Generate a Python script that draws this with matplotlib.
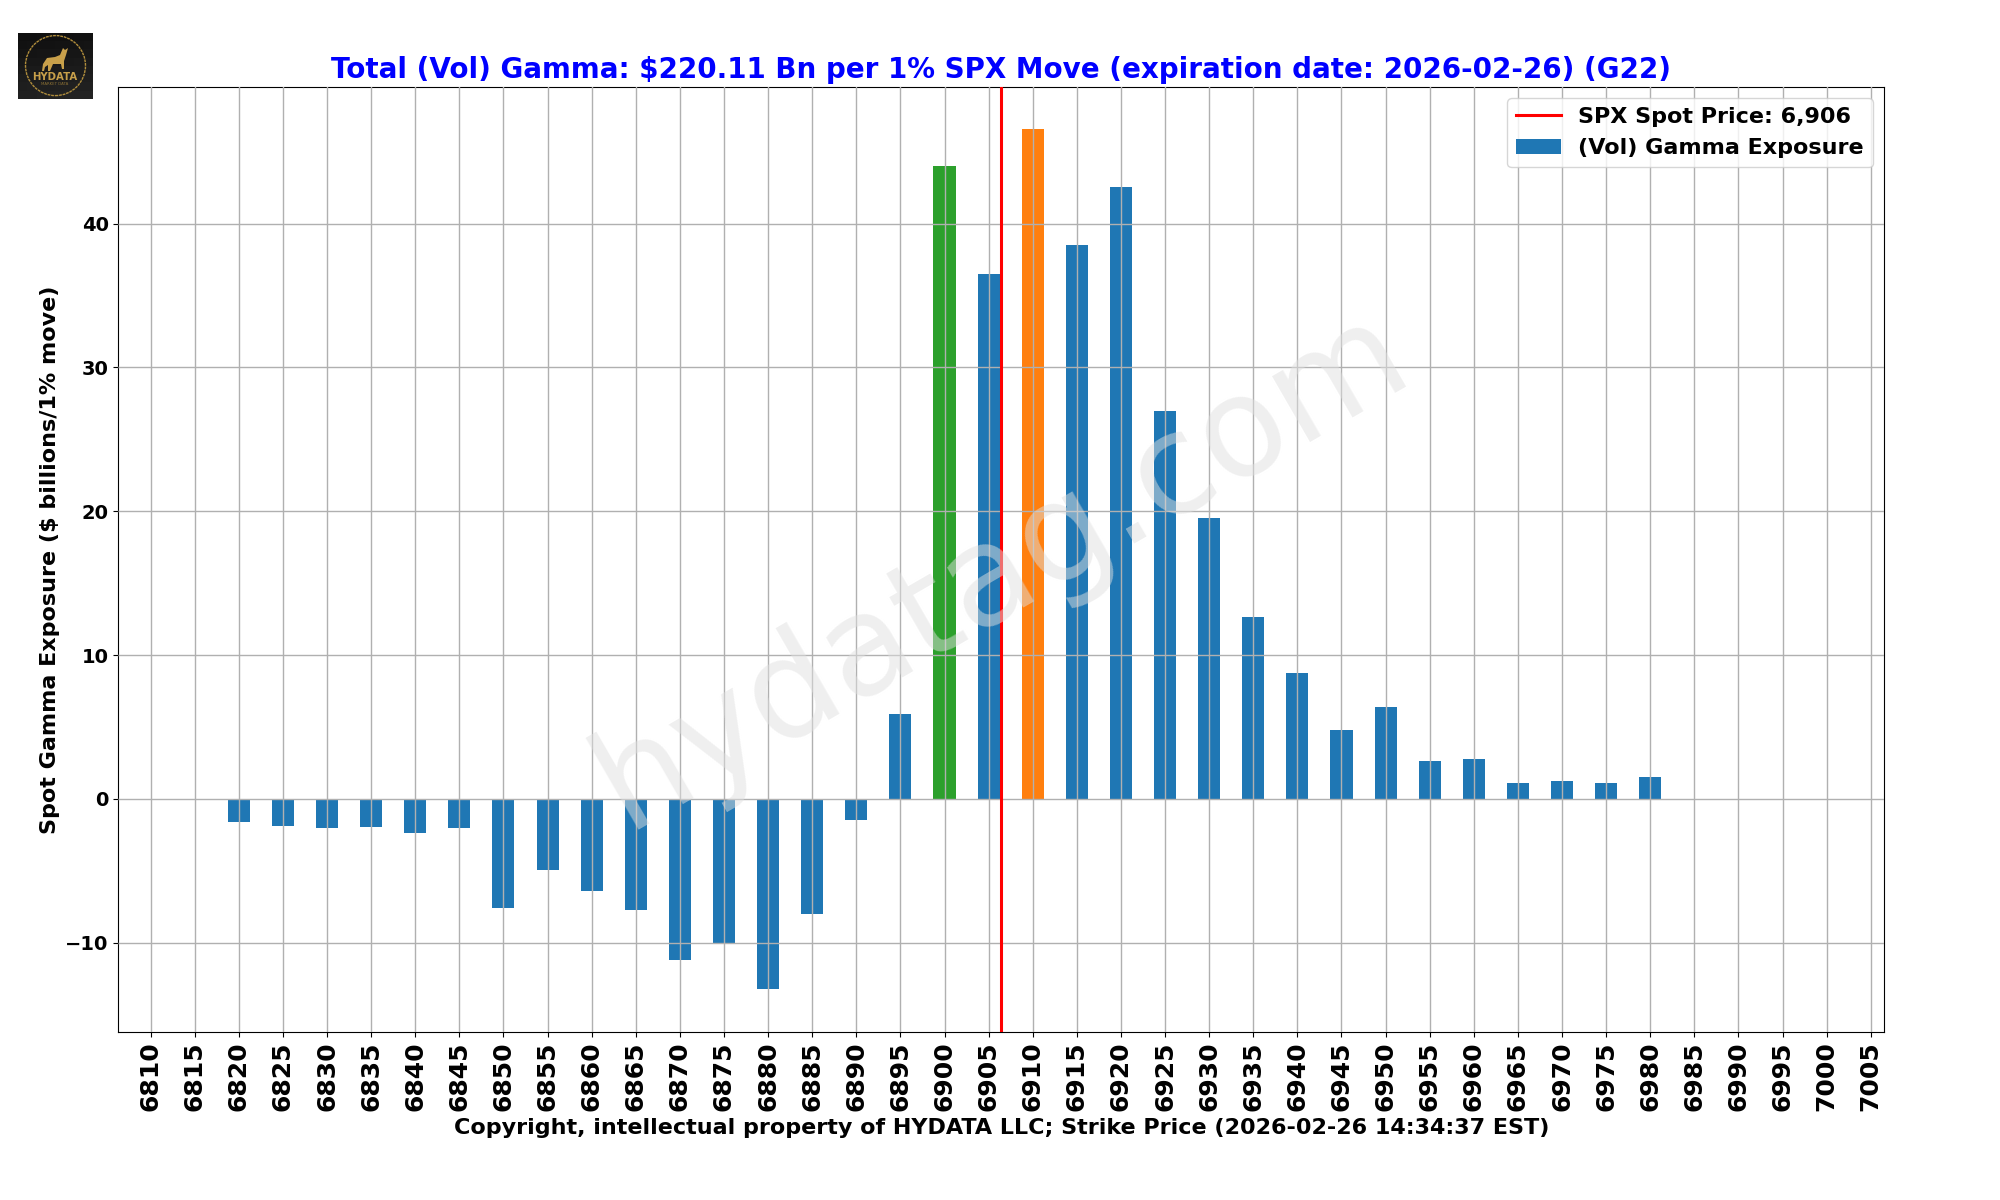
import numpy as np
import matplotlib
matplotlib.use("Agg")
import matplotlib.pyplot as plt
from matplotlib.patches import Circle, Polygon

strikes = list(range(6810, 7010, 5))
gamma = [0, 0, -1.6, -1.9, -2.0, -1.95, -2.35, -2.0, -7.6, -4.95, -6.4, -7.75, -11.2, -10.1,
         -13.2, -8.0, -1.45, 5.9, 44.0, 36.5, 46.6, 38.5, 42.55, 27.0, 19.5, 12.65, 8.75, 4.8,
         6.4, 2.6, 2.75, 1.1, 1.25, 1.1, 1.5, 0, 0, 0, 0, 0]
spot = 6906.4
green_strike = 6900
orange_strike = 6910
title = "Total (Vol) Gamma: $220.11 Bn per 1% SPX Move (expiration date: 2026-02-26) (G22)"
xlabel = "Copyright, intellectual property of HYDATA LLC; Strike Price (2026-02-26 14:34:37 EST)"
ylabel = "Spot Gamma Exposure ($ billions/1% move)"

colors = ["#2ca02c" if s == green_strike else "#ff7f0e" if s == orange_strike else "#1f77b4"
          for s in strikes]

fig = plt.figure(figsize=(20, 12), dpi=100)
ax = fig.add_axes([0.0592, 0.1402, 0.8828, 0.7873])
bars = ax.bar(strikes, gamma, width=2.5, color=colors, label="(Vol) Gamma Exposure", zorder=2)
ax.grid(True, color="#b0b0b0", linewidth=1.0, zorder=3)
ax.set_axisbelow(False)
line = ax.axvline(spot, color="red", linewidth=2.2, label="SPX Spot Price: 6,906", zorder=4)
ax.set_xlim(6806.35, 7006.5)
ax.set_ylim(-16.2, 49.5)
ax.set_xticks(strikes)
ax.set_xticklabels([str(s) for s in strikes], rotation=90, fontsize=18, fontweight="bold")
ax.tick_params(axis="y", labelsize=14)
for t in ax.get_yticklabels():
    t.set_fontweight("bold")
for s in ax.spines.values():
    s.set_color("black")
ax.set_title(title, fontsize=20, fontweight="bold", color="blue", pad=6.8)
ax.set_xlabel(xlabel, fontsize=16, fontweight="bold", labelpad=4.5)
ax.set_ylabel(ylabel, fontsize=16, fontweight="bold")
ax.legend(handles=[line, bars], prop={"size": 16, "weight": "bold"}, loc="upper right")
ax.text(0.5, 0.49, "hydatag.com", transform=ax.transAxes, fontsize=100, color="#e0e0e0", alpha=0.5,
        rotation=30, ha="center", va="center", zorder=5)

logo = fig.add_axes([0.009, 0.9175, 0.0375, 0.055])
logo.axis("off")
logo.imshow(np.linspace(0.06, 0.14, 64).reshape(8, 8), cmap="gray", vmin=0, vmax=1,
            extent=(0, 75, 0, 66), aspect="auto")
logo.add_patch(Circle((37.5, 33.4), 30, fill=False, ec="#b08d3c", lw=1, ls=(0, (2, 0.6))))
logo.add_patch(Polygon([(25, 35), (29, 41), (37, 42), (42, 44), (45, 51), (47, 49), (50, 51),
                        (48, 44), (46, 38), (46, 30), (44, 30), (43, 35), (38, 35), (35, 35),
                        (32, 28), (30, 28), (30, 34), (27, 32), (26, 28), (24, 28)],
                       closed=True, fc="#c8a04a", ec="none"))
logo.text(37, 21.7, "HYDATA", color="#c8a04a", fontsize=7.3, fontweight="bold", ha="center", va="center")
logo.text(37, 14.7, "MARKET DATA", color="#8a6f33", fontsize=2.8, ha="center", va="center")
logo.set_xlim(0, 75)
logo.set_ylim(0, 66)

fig.savefig("out.png", dpi=100)
